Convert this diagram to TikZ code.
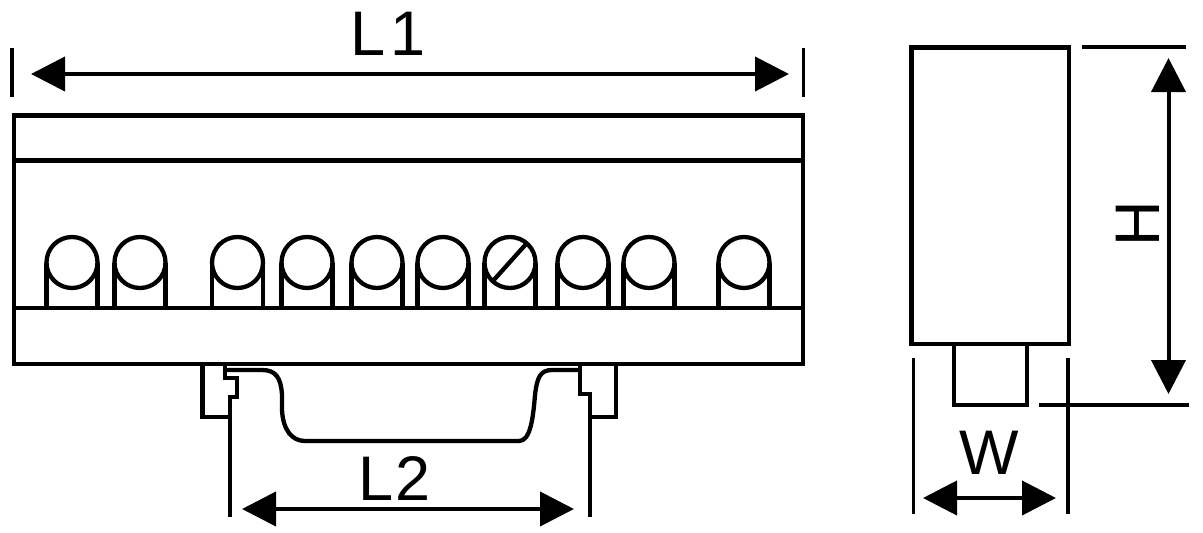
\documentclass[tikz,border=0pt]{standalone}
\usepackage{fontspec}
\setmainfont{Liberation Sans}
\usetikzlibrary{arrows.meta}
\tikzset{
  outline/.style={draw=black,line width=4.7pt,line join=miter},
  thin outline/.style={draw=black,line width=4.3pt},
  extline/.style={draw=black,line width=3.8pt},
  dimension/.style={draw=black,line width=4pt,{Triangle[length=34pt,width=34pt]}-{Triangle[length=34pt,width=34pt]}},
  dimlabel/.style={inner sep=0pt,font=\fontsize{63pt}{63pt}\selectfont},
}
\newcommand{\terminal}[1]{%
  \draw[thin outline] (#1-25.5,308) -- (#1-25.5,263);
  \draw[thin outline] (#1+25.5,308) -- (#1+25.5,263);
  \draw[thin outline] (#1,262.5) circle (25.5);
}
\begin{document}
\begin{tikzpicture}[x=1pt,y=-1pt]
\useasboundingbox (0,0) rectangle (1203,533);
% front view body
\foreach \cx in {72,140,237.5,307,377,443,510,583,649,744} {\terminal{\cx}}
\draw[thin outline] (492,282) -- (527,243);
\draw[outline] (14,115.5) rectangle (803,364);
\draw[outline] (14,160.5) -- (803,160.5);
\draw[outline] (14,308) -- (803,308);
% rail clips
\draw[thin outline] (202.5,364) -- (202.5,417) -- (230,417) -- (230,397) -- (237,397) -- (237,378) -- (225,378) -- (225,364);
\draw[thin outline] (616,364) -- (616,417) -- (590,417) -- (590,394) -- (580,394) -- (580,364);
\draw[thin outline] (225,370) -- (262,370) .. controls (276,370) and (281,378) .. (282,395) -- (282,410) .. controls (283,430) and (292,441) .. (305,441) -- (519,441) .. controls (530,441) and (533,420) .. (535,395) .. controls (537,378) and (540,370) .. (552,370) -- (580,370);
% side view
\draw[outline] (911.5,47.5) rectangle (1069,344);
\draw[outline] (954,344) -- (954,405) -- (1027,405) -- (1027,344);
% extension lines
\coordinate (l1a) at (12,48); \coordinate (l1b) at (12,97);
\coordinate (l1c) at (803.5,48); \coordinate (l1d) at (803.5,97);
\draw[extline] (l1a) -- (l1b);
\draw[extline] (l1c) -- (l1d);
\coordinate (l2a) at (230,417); \coordinate (l2b) at (230,517);
\coordinate (l2c) at (590,417); \coordinate (l2d) at (590,517);
\draw[extline] (l2a) -- (l2b);
\draw[extline] (l2c) -- (l2d);
\coordinate (wa) at (913.5,358); \coordinate (wb) at (913.5,514);
\coordinate (wc) at (1068,358); \coordinate (wd) at (1068,514);
\draw[extline] (wa) -- (wb);
\draw[extline] (wc) -- (wd);
\coordinate (ha) at (1082,47); \coordinate (hb) at (1186,47);
\coordinate (hc) at (1039,405); \coordinate (hd) at (1189,405);
\draw[extline] (ha) -- (hb);
\draw[extline] (hc) -- (hd);
% dimensions
\coordinate (d1a) at (31,74); \coordinate (d1b) at (789,74);
\draw[dimension] (d1a) -- (d1b);
\coordinate (d2a) at (242,509); \coordinate (d2b) at (574,509);
\draw[dimension] (d2a) -- (d2b);
\coordinate (dwa) at (923,498); \coordinate (dwb) at (1056,498);
\draw[dimension] (dwa) -- (dwb);
\coordinate (dha) at (1168.5,58); \coordinate (dhb) at (1168.5,394);
\draw[dimension] (dha) -- (dhb);
% labels
\node[dimlabel] (L1) at (388,34) {L\kern 5pt 1};
\node[dimlabel] (L2) at (395,479) {L\kern 2pt 2};
\node[dimlabel] (W) at (989,452.5) {W};
\node[dimlabel,rotate=90] (H) at (1138,224) {H};
\end{tikzpicture}
\end{document}
